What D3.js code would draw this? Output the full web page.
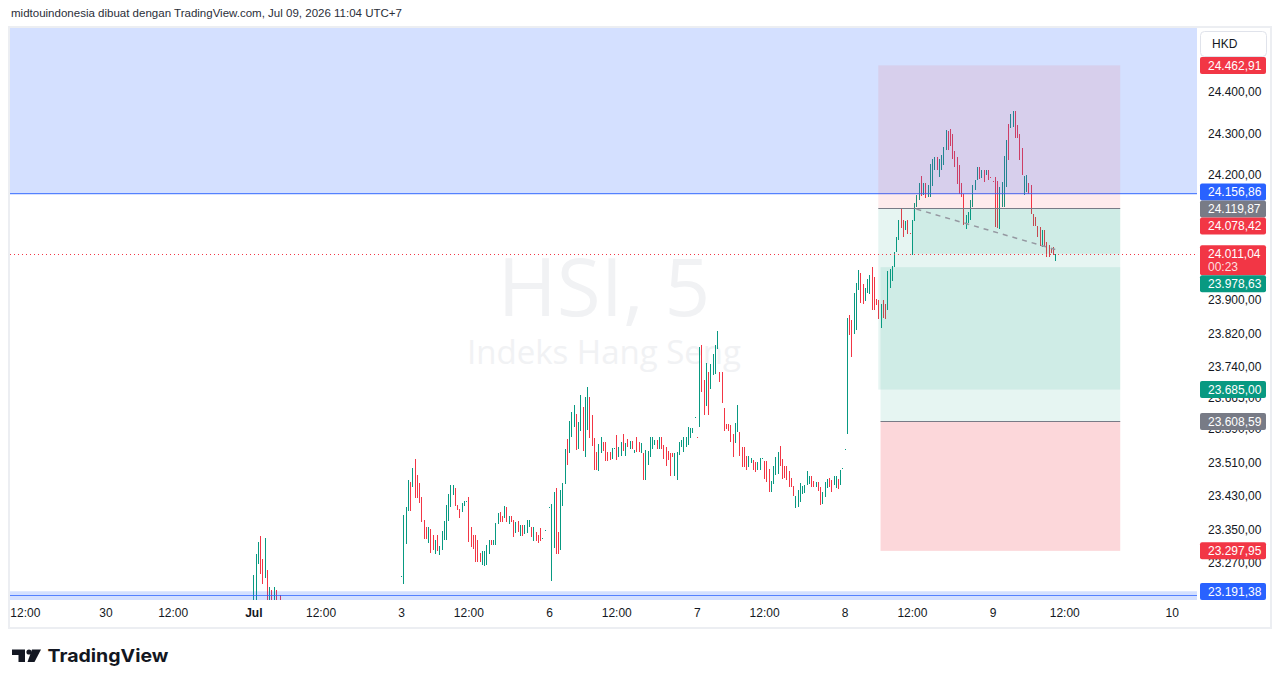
<!DOCTYPE html>
<html>
<head>
<meta charset="utf-8">
<script src="https://cdn.jsdelivr.net/npm/d3@7"></script>
<style>
  body { margin: 0; background: #fff; }
  svg { display: block; font-family: "Liberation Sans", Arial, sans-serif; }
</style>
</head>
<body>
<div id="chart"></div>
<script>
// HSI 5 minute bars as [open, close]; one array per trading day,
// null = bar sitting below the visible price range
const jul02 = [[23160,23240],[23170,23291],[23267,23319],[23334,23243],[23279,23219],[23233,23329],
  [23252,23165],[23170,23211],[23204,23172],[23168,23211],[23204,23170],null,[23192,23170]];

const jul03 = [[23237,23237],[23219,23384],[23315,23403],[23394,23468],[23463,23394],[23450,23497],
  [23519,23425],[23480,23425],[23461,23413],[23428,23367],[23372,23326],[23355,23326],[23317,23355],
  [23350,23293],[23336,23300],[23290,23324],[23336,23297],[23288,23310],[23300,23346],[23324,23370],
  [23324,23408],[23370,23435],[23403,23456],[23432,23456],[23449,23406],[23408,23396],[23398,23377],
  [23391,23413],[23406,23418],[23418,23418],
  [23428,23319],[23355,23307],[23336,23302],[23336,23271],[23324,23271],[23293,23271],[23264,23298],
  [23262,23298],[23264,23312],[23290,23324],[23324,23312],[23312,23324],[23312,23365],[23362,23389],
  [23391,23367],[23382,23367],[23377,23406],[23403,23367],[23362,23382],[23382,23367],[23372,23331],
  [23341,23367],[23370,23342],[23334,23360],[23360,23334],[23338,23360],[23341,23372],[23355,23372],
  [23355,23331],[23322,23355],[23343,23322],[23336,23317],[23353,23322],[23329,23329],[23348,23348],null];

const jul06 = [[23404,23404],[23226,23411],[23305,23440],[23449,23290],[23343,23290],[23300,23444],
  [23405,23461],[23458,23542],[23566,23503],[23532,23610],[23571,23632],[23595,23648],[23626,23539],
  [23542,23606],[23586,23671],[23642,23537],[23522,23668],[23588,23690],[23667,23568],[23625,23550],
  [23569,23491],[23534,23491],[23489,23554],[23532,23572],[23558,23537],[23558,23514],[23534,23514],
  [23536,23515],[23519,23545],[23545,23545],
  [23577,23516],[23522,23546],[23525,23558],[23579,23537],[23525,23556],[23566,23548],[23542,23562],
  [23562,23542],[23532,23541],[23570,23535],[23559,23536],[23533,23556],[23532,23469],[23468,23539],
  [23505,23538],[23524,23570],[23542,23571],[23553,23564],[23564,23542],[23542,23571],[23571,23542],
  [23553,23518],[23547,23501],[23537,23516],[23532,23477],[23533,23522],[23477,23532],[23469,23534],
  [23529,23558],[23547,23565],[23534,23572],[23546,23572],[23553,23596],[23568,23593],[23580,23592],
  [23619,23619]];

const jul07 = [[23572,23571],[23595,23787],[23793,23679],[23708,23625],[23646,23749],[23727,23625],
  [23686,23746],[23719,23770],[23723,23793],[23782,23825],[23727,23704],[23727,23652],[23640,23586],
  [23603,23590],[23603,23585],[23600,23558],[23578,23524],[23556,23604],[23584,23649],[23584,23525],
  [23548,23498],[23546,23498],[23526,23493],[23498,23525],[23509,23521],[23517,23492],[23510,23486],
  [23493,23512],[23493,23521],[23520,23520],
  [23514,23470],[23514,23463],[23494,23439],[23438,23466],[23458,23501],[23480,23523],[23482,23536],
  [23550,23502],[23518,23470],[23501,23473],[23501,23467],[23489,23450],[23473,23450],[23453,23430],
  [23401,23430],[23404,23443],[23414,23460],[23434,23453],[23436,23455],[23455,23490],[23458,23477],
  [23478,23450],[23466,23450],[23450,23463],[23463,23442],[23452,23408],[23411,23438],[23428,23464],
  [23448,23471],[23473,23450],[23469,23438],[23457,23477],[23448,23477],[23470,23446],[23457,23493],
  [23497,23497]];

const jul08 = [[23542,23542],[23578,23856],[23865,23816],[23853,23764],[23819,23916],[23827,23941],
  [23923,23971],[23965,23892],[23939,23891],[23897,23928],[23916,23950],[23915,23959],[23979,23877],
  [23954,23877],[23902,23887],[23901,23854],[23833,23891],[23901,23856],[23891,23854],[23876,23969],
  [23928,23974],[23946,23981],[23979,24014],[24014,24051],[24045,24093],[24118,24073],[24091,24050],
  [24067,24089],[24091,24059],[24060,24059],
  [24009,24091],[24090,24133],[24123,24152],[24141,24181],[24197,24149],[24151,24181],[24181,24145],
  [24146,24177],[24147,24226],[24173,24238],[24211,24242],[24244,24211],[24196,24239],[24211,24248],
  [24223,24266],[24260,24309],[24305,24261],[24310,24270],[24298,24239],[24258,24220],[24244,24178],
  [24224,24155],[24181,24147],[24154,24081],[24071,24103],[24085,24111],[24091,24139],[24123,24175],
  [24163,24187],[24187,24218],[24218,24191],[24192,24211],[24213,24183],[24199,24211],[24211,24187],
  [24195,24194]];

const jul09 = [[24186,24183],[24196,24075],[24185,24073],[24071,24171],[24123,24182],[24123,24245],
  [24171,24285],[24322,24236],[24312,24346],[24314,24354],[24353,24288],[24320,24288],[24298,24236],
  [24264,24200],[24151,24197],[24160,24199],[24181,24155],[24175,24107],[24106,24078],[24100,24077],
  [24078,24051],[24075,24030],[24027,24067],[24067,24027],[24040,24003],[24031,24003],[24022,24012],
  [24028,24008],[23994,24011.04]];

// bar slot of each day's 09:30 bar (66 five-minute bars a day, Jun 30 = 0)
const sessionStart = [66, 132, 198, 264, 330, 396];
const sessionBars = [jul02, jul03, jul06, jul07, jul08, jul09];

const timeTickSlots = [-36, 0, 30, 66, 96, 132, 162, 198, 228, 264, 294, 330, 360, 396, 428, 476];
const timeTickLabels = ["12:00", "30", "12:00", "Jul", "12:00", "3", "12:00", "6", "12:00", "7",
  "12:00", "8", "12:00", "9", "12:00", "10"];

// 24.100 / 24.000 sit fully under the price labels, so they are left out
const priceTicks = [24400, 24300, 24200, 23900, 23820, 23740, 23665, 23590,
  23510, 23430, 23350, 23270];

// right axis price labels
const labelPrices = [24462.91, 24156.86, 24119.87, 24078.42, 24011.04, 23978.63, 23685.00, 23608.59, 23297.95, 23191.38];
const labelColors = ["#f23645", "#2962ff", "#787b86", "#f23645", "#f23645", "#089981", "#089981", "#787b86", "#f23645", "#2962ff"];
const lastClose = 24011.04;
const countdown = "00:23";

// drawings
const blueZones = [[24152, 24800], [22900, 23201]];
const blueLines = [24156.86, 23191.38];
const shortTrade = [345, 453, 24119.87, 24462.91, 23685.00]; // start slot, end slot, entry, stop, target
const shortFillFrom = 360.5;
const longTrade = [346, 453, 23608.59, 23297.95, 23978.63];
const trendSlots = [362, 424];
const trendPrices = [24118, 24021];

const up = "#089981", down = "#f23645", textColor = "#131722";

function render_chart() {
    var W = 1281, H = 688,
        pane = {left: 10, right: 1197, top: 28, bottom: 600},
        fmt = d3.formatLocale({decimal: ",", thousands: ".", grouping: [3], currency: ["", ""]}).format(",.2f");

    var x = d3.scaleLinear().domain([0, 476]).range([105.5, 1171.74]);
    var y = d3.scaleLinear().domain([23180, 24555]).range([600, 27]);

    var svg = d3.select("#chart").append("svg")
        .attr("width", W)
        .attr("height", H);

    svg.append("rect").attr("width", W).attr("height", H).attr("fill", "#fff");

    // header
    svg.append("text")
        .attr("x", 11).attr("y", 17)
        .attr("font-size", 11).attr("fill", "#2a2e39")
        .attr("textLength", 391).attr("lengthAdjust", "spacingAndGlyphs")
        .text("midtouindonesia dibuat dengan TradingView.com, Jul 09, 2026 11:04 UTC+7");

    // frame
    svg.append("rect")
        .attr("x", 9).attr("y", 27).attr("width", 1262).attr("height", 601)
        .attr("fill", "none").attr("stroke", "#eceef2").attr("stroke-width", 2);

    svg.append("clipPath").attr("id", "pane")
        .append("rect")
        .attr("x", pane.left).attr("y", pane.top)
        .attr("width", pane.right - pane.left).attr("height", pane.bottom - pane.top);

    var plot = svg.append("g").attr("clip-path", "url(#pane)");

    // watermark
    plot.append("text")
        .attr("x", 604).attr("y", 316)
        .attr("text-anchor", "middle")
        .attr("font-family", "'Open Sans', sans-serif").attr("font-size", 80)
        .attr("fill", "#f1f2f4")
        .text("HSI, 5");
    plot.append("text")
        .attr("x", 604).attr("y", 364)
        .attr("text-anchor", "middle")
        .attr("font-family", "'Open Sans', sans-serif").attr("font-size", 33)
        .attr("fill", "#f1f2f4")
        .text("Indeks Hang Seng");

    // candles
    var bars = [];
    sessionBars.forEach(function (day, k) {
        day.forEach(function (b, i) {
            if (b) bars.push({slot: sessionStart[k] + i, open: b[0], close: b[1]});
        });
    });

    plot.append("g").attr("shape-rendering", "crispEdges")
        .selectAll("rect")
        .data(bars)
        .enter().append("rect")
        .attr("x", function (d) { return Math.round(x(d.slot)); })
        .attr("y", function (d) { return y(Math.max(d.open, d.close)); })
        .attr("width", 1)
        .attr("height", function (d) { return Math.max(1, Math.abs(y(d.open) - y(d.close))); })
        .attr("fill", function (d) { return d.close >= d.open ? up : down; });

    // blue zones across the pane
    plot.selectAll(".zone")
        .data(blueZones)
        .enter().append("rect")
        .attr("x", pane.left).attr("width", pane.right - pane.left)
        .attr("y", function (d) { return y(d[1]); })
        .attr("height", function (d) { return y(d[0]) - y(d[1]); })
        .attr("fill", "rgba(41,98,255,0.2)");

    plot.selectAll(".bline")
        .data(blueLines)
        .enter().append("line")
        .attr("x1", pane.left).attr("x2", pane.right)
        .attr("y1", function (d) { return Math.round(y(d)) + 0.5; })
        .attr("y2", function (d) { return Math.round(y(d)) + 0.5; })
        .attr("stroke", "#2962ff").attr("stroke-opacity", 0.75);

    function band(g, s0, s1, p0, p1, fill) {
        g.append("rect")
            .attr("x", x(s0)).attr("width", x(s1) - x(s0))
            .attr("y", y(Math.max(p0, p1)))
            .attr("height", Math.abs(y(p0) - y(p1)))
            .attr("fill", fill);
    }

    // short position tool
    var st = shortTrade, lt = longTrade;
    band(plot, st[0], st[1], st[2], st[3], "rgba(242,54,69,0.1)");
    band(plot, st[0], st[1], st[2], st[4], "rgba(8,153,129,0.1)");
    band(plot, shortFillFrom, st[1], st[2], lastClose, "rgba(8,153,129,0.1)");
    // long position tool
    band(plot, lt[0], lt[1], lt[2], lt[4], "rgba(8,153,129,0.1)");
    band(plot, lt[0], lt[1], lt[2], lt[3], "rgba(242,54,69,0.2)");

    [st, lt].forEach(function (t) {
        plot.append("line")
            .attr("x1", x(t[0])).attr("x2", x(t[1]))
            .attr("y1", Math.round(y(t[2])) + 0.5).attr("y2", Math.round(y(t[2])) + 0.5)
            .attr("stroke", "#787b86").attr("stroke-width", 1);
    });

    // dashed trend line
    plot.append("line")
        .attr("x1", x(trendSlots[0])).attr("y1", y(trendPrices[0]))
        .attr("x2", x(trendSlots[1])).attr("y2", y(trendPrices[1]))
        .attr("stroke", "#9598a1").attr("stroke-width", 1.5)
        .attr("stroke-dasharray", "5 5");

    // last price dotted line
    plot.append("line")
        .attr("x1", pane.left).attr("x2", pane.right)
        .attr("y1", Math.round(y(lastClose)) + 0.5).attr("y2", Math.round(y(lastClose)) + 0.5)
        .attr("stroke", down).attr("stroke-dasharray", "1 3");

    // price axis
    var priceAxis = d3.axisRight(y).tickValues(priceTicks).tickFormat(fmt).tickSize(0).tickPadding(11);
    svg.append("g")
        .attr("transform", "translate(" + pane.right + ",0)")
        .call(priceAxis)
        .call(function (g) { g.select(".domain").remove(); })
        .attr("font-size", 12).attr("font-family", null)
        .selectAll("text").attr("fill", textColor);

    // time axis
    var timeAxis = d3.axisBottom(x).tickValues(timeTickSlots)
        .tickFormat(function (d, i) { return timeTickLabels[i]; })
        .tickSize(0).tickPadding(8);
    svg.append("g")
        .attr("transform", "translate(0," + pane.bottom + ")")
        .call(timeAxis)
        .call(function (g) { g.select(".domain").remove(); })
        .attr("font-size", 12).attr("font-family", null)
        .selectAll("text")
        .attr("fill", textColor)
        .attr("font-weight", function (d, i) { return timeTickLabels[i] === "Jul" ? "bold" : null; });

    // HKD box
    svg.append("rect")
        .attr("x", 1200.5).attr("y", 31.5).attr("width", 66).attr("height", 25).attr("rx", 4)
        .attr("fill", "#fff").attr("stroke", "#e0e3eb");
    svg.append("text")
        .attr("x", 1212).attr("y", 44).attr("dy", "0.35em")
        .attr("font-size", 12).attr("fill", textColor)
        .text("HKD");

    // axis price labels, stacked so they don't overlap
    var items = labelPrices.map(function (p, i) {
        var isLast = p === lastClose;
        return {p: p, color: labelColors[i], h: isLast ? 30 : 17, w: isLast ? 1000 : 1, want: y(p) - 8.5, last: isLast};
    }).sort(function (a, b) { return a.want - b.want; });

    var groups = items.map(function (d) { return {items: [d], top: d.want, h: d.h}; });
    var merged = true;
    while (merged) {
        merged = false;
        for (var i = 0; i < groups.length - 1; i++) {
            var a = groups[i], b = groups[i + 1];
            if (a.top + a.h > b.top + 0.01) {
                var its = a.items.concat(b.items), off = 0, num = 0, den = 0;
                its.forEach(function (d) { num += d.w * (d.want - off); den += d.w; off += d.h; });
                groups.splice(i, 2, {items: its, top: num / den, h: a.h + b.h});
                merged = true;
                break;
            }
        }
    }
    groups.forEach(function (g) {
        g.top = Math.max(pane.top, Math.min(pane.bottom - g.h, g.top));
        var off = 0;
        g.items.forEach(function (d) { d.top = g.top + off; off += d.h; });
    });

    var lab = svg.append("g").selectAll("g")
        .data(items)
        .enter().append("g")
        .attr("transform", function (d) { return "translate(1200," + d.top + ")"; });
    lab.append("rect")
        .attr("width", 66).attr("height", function (d) { return d.h; }).attr("rx", 2)
        .attr("fill", function (d) { return d.color; });
    lab.append("text")
        .attr("x", 8).attr("y", 8.5).attr("dy", "0.35em")
        .attr("font-size", 12).attr("fill", "#fff")
        .text(function (d) { return fmt(d.p); });
    lab.filter(function (d) { return d.last; }).append("text")
        .attr("x", 8).attr("y", 22).attr("dy", "0.35em")
        .attr("font-size", 12).attr("fill", "#fff").attr("fill-opacity", 0.85)
        .text(countdown);

    // TradingView logo
    var logo = svg.append("g").attr("fill", "#131722");
    logo.append("path").attr("d", "M12 649.5H25V662H18.5V655H12Z");
    logo.append("circle").attr("cx", 29).attr("cy", 652).attr("r", 2.6);
    logo.append("path").attr("d", "M32 649.5H41L34.5 662H27.5Z");
    logo.append("text")
        .attr("x", 47.5).attr("y", 662)
        .attr("font-family", "Inter, 'Liberation Sans', sans-serif").attr("font-weight", 700)
        .attr("font-size", 18)
        .attr("textLength", 121).attr("lengthAdjust", "spacingAndGlyphs")
        .text("TradingView");
}

render_chart();
</script>
</body>
</html>
